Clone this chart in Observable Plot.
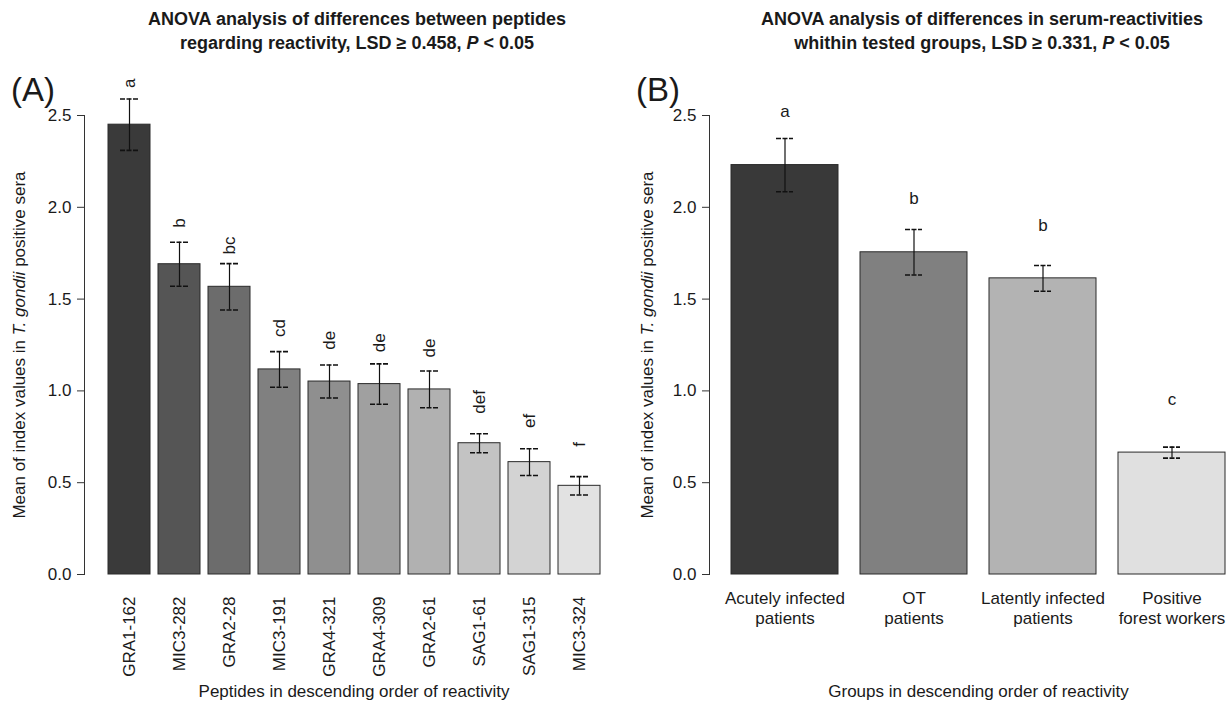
<!DOCTYPE html>
<html>
<head>
<meta charset="utf-8">
<script src="https://cdn.jsdelivr.net/npm/d3@7"></script>
<script src="https://cdn.jsdelivr.net/npm/@observablehq/plot@0.6"></script>
<style>
  html, body { margin: 0; padding: 0; background: #fff; overflow: hidden; }
  #wrap { position: relative; width: 1227px; height: 702px; overflow: hidden; font-family: "Liberation Sans", Arial, sans-serif; color: #1a1a1a; }
  .title { position: absolute; width: 640px; text-align: center; font-weight: bold; font-size: 18px; line-height: 24px; white-space: nowrap; }
  .panel { position: absolute; font-size: 33px; line-height: 1; }
  .plot { position: absolute; top: 0; }
  .plot svg { max-width: none !important; }
</style>
</head>
<body>
<div id="wrap">
  <div class="title" style="left:37px; top:7px;">ANOVA analysis of differences between peptides<br>regarding reactivity, LSD ≥ 0.458, <i>P</i> &lt; 0.05</div>
  <div class="title" style="left:662px; top:7px;">ANOVA analysis of differences in serum-reactivities<br>whithin tested groups, LSD ≥ 0.331, <i>P</i> &lt; 0.05</div>
  <div class="panel" style="left:11px; top:73px;">(A)</div>
  <div class="panel" style="left:636px; top:73px;">(B)</div>
  <div class="plot" id="pa" style="left:0px; width:640px;"></div>
  <div class="plot" id="pb" style="left:640px; width:620px;"></div>
</div>
<script>
// ---- Data ----
const peptides = ["GRA1-162", "MIC3-282", "GRA2-28", "MIC3-191", "GRA4-321", "GRA4-309", "GRA2-61", "SAG1-61", "SAG1-315", "MIC3-324"];
const meansA = [2.45, 1.69, 1.567, 1.117, 1.051, 1.037, 1.008, 0.715, 0.612, 0.483];
const seA = [0.14, 0.12, 0.126, 0.097, 0.09, 0.11, 0.1, 0.052, 0.073, 0.05];
const lettersA = ["a", "b", "bc", "cd", "de", "de", "de", "def", "ef", "f"];

const groupsB = ["Acutely infected\npatients", "OT\npatients", "Latently infected\npatients", "Positive\nforest workers"];
const meansB = [2.23, 1.755, 1.613, 0.664];
const seB = [0.145, 0.124, 0.07, 0.03];
const lettersB = ["a", "b", "b", "c"];

const yTicks = [0, 0.5, 1.0, 1.5, 2.0, 2.5];
const yTitle = "Mean of index values in T. gondii positive sera";
const xTitleA = "Peptides in descending order of reactivity";
const xTitleB = "Groups in descending order of reactivity";

// colour ramps (style, not data)
const shadesA = ["#3a3a3a", "#555555", "#6c6c6c", "#808080", "#8f8f8f", "#a0a0a0", "#b1b1b1", "#c3c3c3", "#d3d3d3", "#e2e2e2"];
const shadesB = ["#393939", "#808080", "#b3b3b3", "#e0e0e0"];

const tableA = peptides.map((p, i) => ({name: p, mean: meansA[i], lo: meansA[i] - seA[i], hi: meansA[i] + seA[i], letter: lettersA[i]}));
const tableB = groupsB.map((g, i) => ({name: g, mean: meansB[i], lo: meansB[i] - seB[i], hi: meansB[i] + seB[i], letter: lettersB[i]}));

const font = "'Liberation Sans', Arial, sans-serif";
const ink = "#1a1a1a";

function italicizeYLabel(svg) {
  const t = svg.querySelector('g[aria-label="y-axis label"] text');
  if (!t) return;
  while (t.firstChild) t.removeChild(t.firstChild);
  const ns = "http://www.w3.org/2000/svg";
  const parts = [["Mean of index values in ", false], ["T. gondii", true], [" positive sera", false]];
  for (const [s, it] of parts) {
    const ts = document.createElementNS(ns, "tspan");
    ts.textContent = s;
    if (it) ts.setAttribute("font-style", "italic");
    t.appendChild(ts);
  }
}

// ---- Panel A ----
const plotA = Plot.plot({
  width: 640, height: 702,
  marginLeft: 84, marginRight: 17, marginTop: 115, marginBottom: 128,
  style: {fontFamily: font, fontSize: "17px", color: ink, background: "transparent", overflow: "visible"},
  x: {type: "band", domain: peptides, paddingInner: 0.167, paddingOuter: 0.394},
  y: {domain: [0, 2.5]},
  color: {type: "ordinal", domain: peptides, range: shadesA},
  marks: [
    Plot.barY(tableA, {x: "name", y: "mean", fill: "name", stroke: "#2a2a2a", strokeWidth: 1}),
    Plot.ruleX(tableA, {x: "name", y1: "lo", y2: "hi", stroke: "#111", strokeWidth: 1.2}),
    Plot.tickY(tableA, {x: "name", y: "hi", insetLeft: 12, insetRight: 12, stroke: "#111", strokeWidth: 1.6, strokeDasharray: "5,1.5"}),
    Plot.tickY(tableA, {x: "name", y: "lo", insetLeft: 12, insetRight: 12, stroke: "#111", strokeWidth: 1.6, strokeDasharray: "5,1.5"}),
    Plot.text(tableA, {x: "name", y: d => d.mean + 0.225, text: "letter", rotate: -90, textAnchor: "middle", fontSize: 17, fill: ink}),
    Plot.axisY({ticks: yTicks, tickSize: 7, tickPadding: 6, tickFormat: d3.format(".1f"), stroke: "#333", fontSize: 17,
      label: yTitle, labelAnchor: "center", labelOffset: 72, labelArrow: "none"}),
    Plot.axisX({tickRotate: -90, tickSize: 0, tickPadding: 22, fontSize: 17,
      label: xTitleA, labelAnchor: "center", labelOffset: 122, labelArrow: "none"}),
    Plot.frame({anchor: "left", stroke: "#333"})
  ]
});
italicizeYLabel(plotA);
document.getElementById("pa").appendChild(plotA);

// ---- Panel B ----
const plotB = Plot.plot({
  width: 620, height: 702,
  marginLeft: 69, marginRight: 13, marginTop: 115, marginBottom: 128,
  style: {fontFamily: font, fontSize: "17px", color: ink, background: "transparent", overflow: "visible"},
  x: {type: "band", domain: groupsB, paddingInner: 0.167, paddingOuter: 0.153},
  y: {domain: [0, 2.5]},
  color: {type: "ordinal", domain: groupsB, range: shadesB},
  marks: [
    Plot.barY(tableB, {x: "name", y: "mean", fill: "name", stroke: "#2a2a2a", strokeWidth: 1}),
    Plot.ruleX(tableB, {x: "name", y1: "lo", y2: "hi", stroke: "#111", strokeWidth: 1.2}),
    Plot.tickY(tableB, {x: "name", y: "hi", insetLeft: 45, insetRight: 45, stroke: "#111", strokeWidth: 1.6, strokeDasharray: "5,1.5"}),
    Plot.tickY(tableB, {x: "name", y: "lo", insetLeft: 45, insetRight: 45, stroke: "#111", strokeWidth: 1.6, strokeDasharray: "5,1.5"}),
    Plot.text(tableB, {x: "name", y: d => d.mean + 0.29, text: "letter", textAnchor: "middle", fontSize: 17, fill: ink}),
    Plot.axisY({ticks: yTicks, tickSize: 7, tickPadding: 6, tickFormat: d3.format(".1f"), stroke: "#333", fontSize: 17,
      label: yTitle, labelAnchor: "center", labelOffset: 69, labelArrow: "none"}),
    Plot.axisX({tickSize: 0, tickPadding: 16, lineHeight: 1.15, fontSize: 17,
      label: xTitleB, labelAnchor: "center", labelOffset: 122, labelArrow: "none"}),
    Plot.frame({anchor: "left", stroke: "#333"})
  ]
});
italicizeYLabel(plotB);
document.getElementById("pb").appendChild(plotB);
</script>
</body>
</html>
